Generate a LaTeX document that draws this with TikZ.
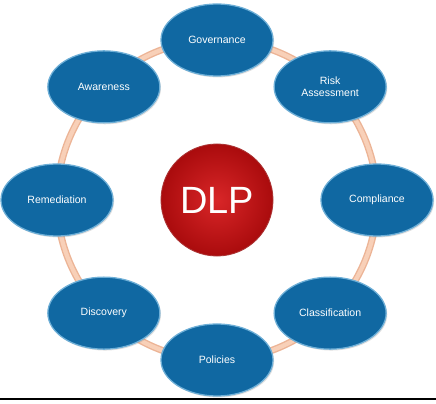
\documentclass[tikz,border=0pt]{standalone}
\usepackage{fontspec}
\setmainfont{Liberation Sans}
\usepackage{xcolor}
\usetikzlibrary{shapes.geometric,shadows,calc}
\definecolor{stepblue}{RGB}{16,104,162}
\definecolor{stepedge}{RGB}{110,175,215}
\definecolor{ringpeach}{RGB}{246,196,166}
\definecolor{ringedge}{RGB}{236,180,150}
\definecolor{dlpred}{RGB}{212,14,16}
\definecolor{dlpdark}{RGB}{150,0,0}
\definecolor{baseline}{RGB}{245,230,200}
\tikzset{
  stage/.style={ellipse,draw=stepedge,line width=0.9pt,fill=stepblue,minimum width=2.8cm,minimum height=1.8cm,
    inner sep=0pt,align=center,text=white,font=\fontsize{7.5}{9}\selectfont,
    drop shadow={opacity=0.25,shadow xshift=0.8pt,shadow yshift=-1pt}},
  hub/.style={circle,draw=dlpdark!80,line width=0.6pt,minimum size=2.8cm,inner sep=0pt,
    inner color=dlpred!90!white,outer color=dlpred!80!black,text=white,font=\fontsize{27}{30}\selectfont},
}
\begin{document}
\begin{tikzpicture}[x=0.025cm,y=0.025cm]
\useasboundingbox (0,0) rectangle (436,403);
\coordinate (c) at (217,203);
% ring behind the stages
\draw[ringedge,line width=5pt] (c) circle (160);
\draw[ringpeach!80!white,line width=3pt] (c) circle (160);
\draw[baseline,line width=1.2pt] (0,4) -- (436,4);
\node[hub] (dlp) at (c) {DLP};
\foreach \a/\n/\t in {90/gov/Governance,45/risk/Risk\\Assessment,0/comp/Compliance,
  -45/class/Classification,-90/pol/Policies,-135/disc/Discovery,180/rem/Remediation,135/aw/Awareness}
  \node[stage] (\n) at ($(c)+(\a:160)$) {\t};
\end{tikzpicture}
\end{document}
